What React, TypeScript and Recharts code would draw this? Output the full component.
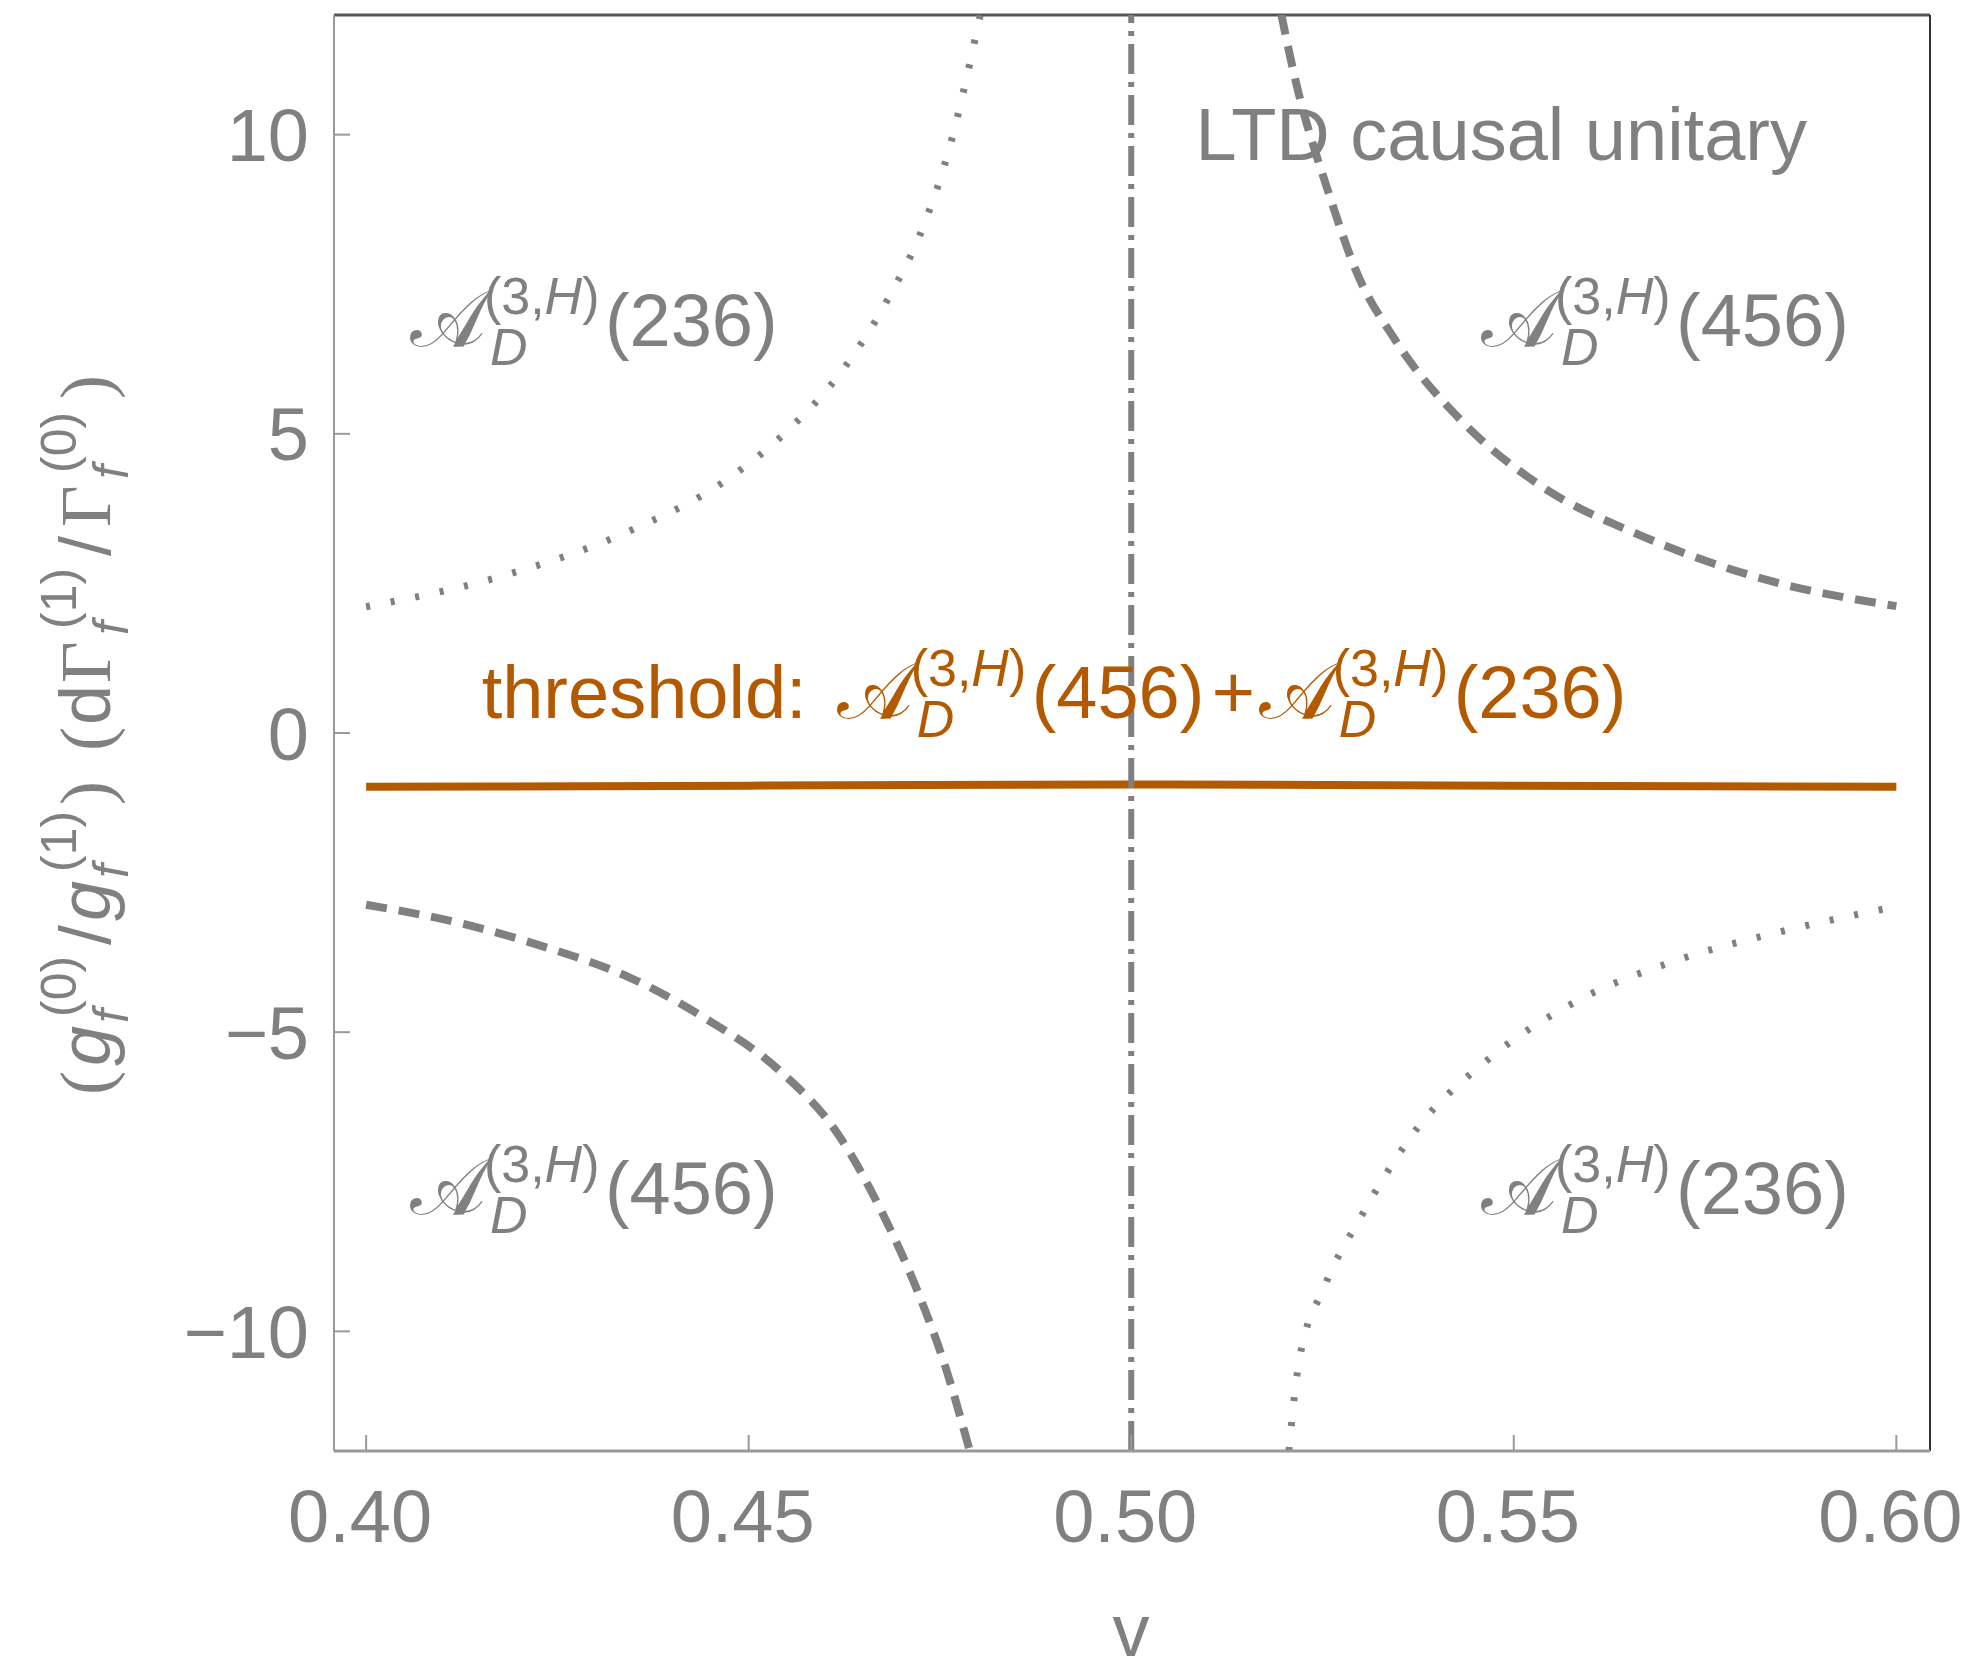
import React from 'react';
import { LineChart, Line, XAxis, YAxis, ReferenceLine, ReferenceDot } from 'recharts';

// ---------- data ----------
const vTicks = [0.4, 0.45, 0.5, 0.55, 0.6];
const yTicks = [-10, -5, 0, 5, 10];
const vDomain: [number, number] = [0.3958, 0.6044];
const yDomain: [number, number] = [-12, 12];

// A(236), branch v < 0.5 (dotted, upper left)
const a236LeftV = [0.4, 0.4177, 0.4343, 0.4471, 0.4553, 0.4623, 0.4681, 0.4728, 0.4762, 0.4795, 0.4803];
const a236LeftY = [2.11, 2.62, 3.37, 4.23, 5.08, 6.07, 7.23, 8.46, 9.76, 11.54, 12.02];
// A(236), branch v > 0.5 (dotted, lower right)
const a236RightV = [0.5206, 0.5219, 0.5253, 0.53, 0.5373, 0.5467, 0.5587, 0.5713, 0.5852, 0.6];
const a236RightY = [-12.0, -10.53, -9.24, -8.09, -6.62, -5.45, -4.45, -3.8, -3.31, -2.9];
// A(456), branch v < 0.5 (dashed, lower left)
const a456LeftV = [0.4, 0.4127, 0.4232, 0.4343, 0.4442, 0.4541, 0.4617, 0.4675, 0.4722, 0.4757, 0.4789];
const a456LeftY = [-2.87, -3.19, -3.57, -4.08, -4.76, -5.65, -6.71, -8.03, -9.37, -10.59, -12.0];
// A(456), branch v > 0.5 (dashed, upper right)
const a456RightV = [0.5196, 0.5213, 0.526, 0.5293, 0.5346, 0.5433, 0.5533, 0.5666, 0.5833, 0.6];
const a456RightY = [12.02, 11.0, 8.95, 7.75, 6.55, 5.2, 4.15, 3.3, 2.55, 2.12];
// threshold: A(456)+A(236)
const thresholdV = [0.4, 0.45, 0.5, 0.55, 0.6];
const thresholdY = [-0.9, -0.88, -0.86, -0.88, -0.9];
// vertical dot-dashed line
const causalV = 0.5;

// annotation anchors (data coordinates of text baselines)
const labelLTD = { v: 0.5084, y: 9.58, text: 'LTD causal unitary' };
const labelUL = { v: 0.4052, y: 6.47, num: '236' };
const labelUR = { v: 0.5452, y: 6.47, num: '456' };
const labelLL = { v: 0.4052, y: -8.04, num: '456' };
const labelLR = { v: 0.5452, y: -8.04, num: '236' };
const labelThr = { v: 0.4151, y: 0.25, prefix: 'threshold: ', nums: ['456', '236'] };

const toPts = (vs: number[], ys: number[]) => vs.map((v, i) => ({ v, y: ys[i] }));

// ---------- styles ----------
const GRAY = '#808080';
const ORANGE = '#B35900';
const SANS = 'Liberation Sans, Arial, Helvetica, sans-serif';
const SERIF = 'Liberation Serif, Times New Roman, serif';
const SCRIPT_FONT = 'DejaVu Serif, DejaVu Sans, Noto Sans, serif';
const FS = 74;
const FS_SCRIPT = 52;

// tspans for  𝒜_D^(3,H)(num)  starting at x, baseline y
const ampSpans = (x: number, y: number, num: string, k: string) => [
  <tspan key={k + 'a'} x={x + 4} y={y} fontSize={80} fontFamily={SCRIPT_FONT}>{'\u{1D49C}'}</tspan>,
  <tspan key={k + 'b'} x={x + 78} y={y - 32} fontSize={FS_SCRIPT}>(3,</tspan>,
  <tspan key={k + 'c'} fontSize={FS_SCRIPT} fontStyle="italic">H</tspan>,
  <tspan key={k + 'd'} fontSize={FS_SCRIPT}>)</tspan>,
  <tspan key={k + 'e'} x={x + 84} y={y + 19} fontSize={FS_SCRIPT} fontStyle="italic">D</tspan>,
  <tspan key={k + 'f'} x={x + 199} y={y} fontSize={FS}>({num})</tspan>,
];

const ampShape = (num: string) => (p: any) => (
  <text fill={GRAY} fontFamily={SANS} fontSize={FS}>{ampSpans(p.cx, p.cy, num, 'm')}</text>
);

const thrShape = (p: any) => (
  <text fill={ORANGE} fontFamily={SANS} fontSize={FS}>
    <tspan x={p.cx} y={p.cy}>{labelThr.prefix}</tspan>
    {ampSpans(p.cx + 351, p.cy, labelThr.nums[0], 'l')}
    <tspan x={p.cx + 730} y={p.cy}>+</tspan>
    {ampSpans(p.cx + 773, p.cy, labelThr.nums[1], 'r')}
  </text>
);

const ltdShape = (p: any) => (
  <text x={p.cx} y={p.cy} fontSize={FS} fontFamily={SANS} fill={GRAY}>{labelLTD.text}</text>
);

const XTick = (props: any) => {
  const { x, y, payload } = props;
  return (
    <g>
      <line x1={x} x2={x} y1={y} y2={y - 16} stroke="#999" strokeWidth={2} />
      <text x={x - 6} y={y + 91} textAnchor="middle" fontSize={FS} fontFamily={SANS} fill={GRAY}>
        {Number(payload.value).toFixed(2)}
      </text>
    </g>
  );
};

const YTick = (props: any) => {
  const { x, y, payload } = props;
  const val = Number(payload.value);
  const s = val < 0 ? '\u2212' + Math.abs(val) : String(val);
  return (
    <g>
      <line x1={x} x2={x + 16} y1={y} y2={y} stroke="#999" strokeWidth={2} />
      <text x={x - 25} y={y} dy="0.36em" textAnchor="end" fontSize={FS} fontFamily={SANS} fill={GRAY}>
        {s}
      </text>
    </g>
  );
};

const XTitle = (props: any) => {
  const vb = props.viewBox || { x: 334, y: 1451, width: 1596, height: 220 };
  return (
    <text x={vb.x + vb.width / 2 - 1} y={vb.y + 205} textAnchor="middle" fontSize={FS} fontFamily={SANS} fill={GRAY}>
      v
    </text>
  );
};

const YTitle = (props: any) => {
  const vb = props.viewBox || { x: 0, y: 15, width: 334, height: 1436 };
  const cx = vb.x + 110;
  const cy = vb.y + vb.height / 2;
  const F = 72;
  const S = 50;
  const sub = 18;
  const sup = -34;
  const sp = (key: string, x: number, y: number, txt: string, size: number, italic = false, fam = SANS) => (
    <tspan key={key} x={x} y={y} fontSize={size} fontFamily={fam} fontStyle={italic ? 'italic' : 'normal'}>
      {txt}
    </tspan>
  );
  return (
    <g transform={`translate(${cx},${cy}) rotate(-90)`}>
      <text fill={GRAY} fontFamily={SANS} fontSize={F}>
        {sp('p1', -362, 0, '(', F, false, SERIF)}
        {sp('g1', -333, 0, 'g', F, true)}
        {sp('f1', -290, sub, 'f', S, true)}
        {sp('s1', -284, sup, '(0)', S)}
        {sp('sl1', -212, 0, '/', F)}
        {sp('g2', -188, 0, 'g', F, true)}
        {sp('f2', -145, sub, 'f', S, true)}
        {sp('s2', -139, sup, '(1)', S)}
        {sp('p2', -72, 0, ')', F, false, SERIF)}
        {sp('p3', -18, 0, '(', F, false, SERIF)}
        {sp('d', 8, 0, 'd', F)}
        {sp('G1', 50, 0, '\u0393', F, false, SERIF)}
        {sp('f3', 98, sub, 'f', S, true)}
        {sp('s3', 104, sup, '(1)', S)}
        {sp('sl2', 177, 0, '/', F)}
        {sp('G2', 206, 0, '\u0393', F, false, SERIF)}
        {sp('f4', 254, sub, 'f', S, true)}
        {sp('s4', 260, sup, '(0)', S)}
        {sp('p4', 334, 0, ')', F, false, SERIF)}
      </text>
    </g>
  );
};

export default function App() {
  return (
    <div style={{ position: 'absolute', left: 0, top: 0, width: 1978, height: 1671, background: '#fff' }}>
      <LineChart width={1978} height={1671} margin={{ top: 15, right: 48, bottom: 0, left: 0 }}>
        <XAxis
          type="number"
          dataKey="v"
          domain={vDomain}
          allowDataOverflow
          ticks={vTicks}
          interval={0}
          tickSize={0}
          tickMargin={0}
          tickLine={false}
          axisLine={{ stroke: '#999', strokeWidth: 3 }}
          height={220}
          tick={(p: any) => <XTick {...p} />}
          label={(p: any) => <XTitle {...p} />}
        />
        <YAxis
          type="number"
          domain={yDomain}
          allowDataOverflow
          ticks={yTicks}
          interval={0}
          tickSize={0}
          tickMargin={0}
          tickLine={false}
          axisLine={{ stroke: '#999', strokeWidth: 2 }}
          width={334}
          tick={(p: any) => <YTick {...p} />}
          label={(p: any) => <YTitle {...p} />}
        />
        <ReferenceLine y={yDomain[1]} stroke="#555" strokeWidth={3} />
        <ReferenceLine x={vDomain[1]} stroke="#333" strokeWidth={2} />

        <Line data={toPts(a236LeftV, a236LeftY)} dataKey="y" type="monotone" dot={false} isAnimationActive={false}
          stroke={GRAY} strokeWidth={7} strokeDasharray="4 21" />
        <Line data={toPts(a236RightV, a236RightY)} dataKey="y" type="monotone" dot={false} isAnimationActive={false}
          stroke={GRAY} strokeWidth={7} strokeDasharray="4 21" />
        <Line data={toPts(a456LeftV, a456LeftY)} dataKey="y" type="monotone" dot={false} isAnimationActive={false}
          stroke={GRAY} strokeWidth={8} strokeDasharray="21 12" />
        <Line data={toPts(a456RightV, a456RightY)} dataKey="y" type="monotone" dot={false} isAnimationActive={false}
          stroke={GRAY} strokeWidth={8} strokeDasharray="21 12" />
        <Line data={toPts(thresholdV, thresholdY)} dataKey="y" type="monotone" dot={false} isAnimationActive={false}
          stroke={ORANGE} strokeWidth={8} />

        <ReferenceLine x={causalV} stroke={GRAY} strokeWidth={6} strokeDasharray="30 8 5 8" />

        <ReferenceDot x={labelLTD.v} y={labelLTD.y} r={0} shape={ltdShape} />
        <ReferenceDot x={labelUL.v} y={labelUL.y} r={0} shape={ampShape(labelUL.num)} />
        <ReferenceDot x={labelUR.v} y={labelUR.y} r={0} shape={ampShape(labelUR.num)} />
        <ReferenceDot x={labelLL.v} y={labelLL.y} r={0} shape={ampShape(labelLL.num)} />
        <ReferenceDot x={labelLR.v} y={labelLR.y} r={0} shape={ampShape(labelLR.num)} />
        <ReferenceDot x={labelThr.v} y={labelThr.y} r={0} shape={thrShape} />
      </LineChart>
    </div>
  );
}
